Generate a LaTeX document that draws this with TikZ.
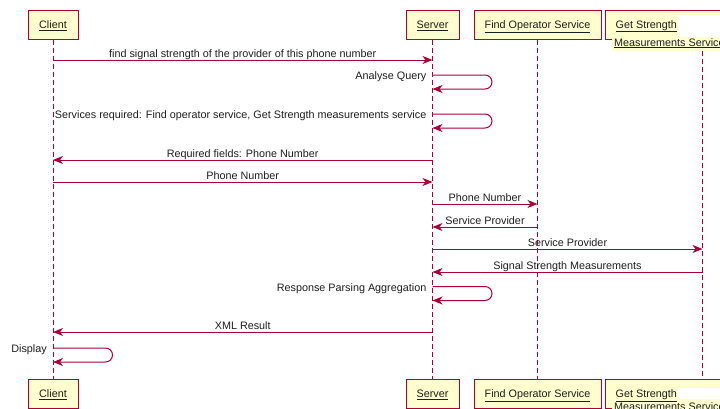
\documentclass[tikz,border=0pt]{standalone}
\usepackage{fontspec}
\setmainfont{Liberation Sans}
\usetikzlibrary{arrows.meta,calc}
\definecolor{pu}{HTML}{A80036}
\definecolor{pubg}{HTML}{FEFECE}
\definecolor{txt}{HTML}{1E1E1E}
\tikzset{
  part/.style={draw=pu, fill=pubg, line width=1pt, rectangle, minimum height=29pt,
    inner sep=0pt, text height=7.7pt, text depth=0pt, font=\fontsize{10.8}{12}\selectfont, text=txt},
  lifeline/.style={draw=pu, line width=0.8pt, dash pattern=on 5pt off 3pt},
  msg/.style={draw=pu, line width=1pt, -{Stealth[length=10pt,width=8pt,inset=3pt]}},
  lbl/.style={font=\fontsize{10.8}{12}\selectfont, text=txt, inner sep=0pt},
}
\begin{document}
\begin{tikzpicture}[x=1pt,y=-1pt]
\useasboundingbox (0,0) rectangle (720,408);
\clip (0,0) rectangle (720,408);
% lifeline x positions
\coordinate (cl) at (53,0);
\coordinate (sv) at (432.5,0);
\coordinate (fo) at (537.5,0);
\coordinate (gs) at (702.5,0);
% top participants
\node[part, minimum width=50pt] (clT) at (53,24.5) {\underline{Client}};
\node[part, minimum width=53pt] (svT) at (432.5,24.5) {\underline{Server}};
\node[part, minimum width=127pt] (foT) at (537.5,24.5) {\underline{Find Operator Service}};
\node[part, minimum width=135pt, anchor=north west] (gsT) at (605,10) {};
\fill[white] (678,15) rectangle (722,37);
\fill[pubg] (612,37) rectangle (722,51);
\node[lbl, anchor=base west] (gsT1) at (615.5,28) {\underline{Get Strength}};
\node[lbl, anchor=base west] (gsT2) at (614,46) {\underline{Measurements Service}};
% bottom participants
\node[part, minimum width=50pt] (clB) at (53,393.8) {\underline{Client}};
\node[part, minimum width=53pt] (svB) at (432.5,393.8) {\underline{Server}};
\node[part, minimum width=127pt] (foB) at (537.5,393.8) {\underline{Find Operator Service}};
\node[part, minimum width=135pt, anchor=north west] (gsB) at (605,379.3) {};
\fill[white] (678,388.3) rectangle (722,399);
\fill[pubg] (612,399) rectangle (722,410);
\node[lbl, anchor=base west] (gsB1) at (615.5,397.3) {\underline{Get Strength}};
\node[lbl, anchor=base west] (gsB2) at (614,410) {\underline{Measurements Service}};
% lifelines
\coordinate (gsTop) at (702.5,51);
\coordinate (gsBot) at (702.5,379.3);
\draw[lifeline] (clT.south) -- (clB.north);
\draw[lifeline] (svT.south) -- (svB.north);
\draw[lifeline] (foT.south) -- (foB.north);
\draw[lifeline] (gsTop) -- (gsBot);
% messages
\draw[msg] ($(cl)+(0,60)$) -- ($(sv)+(0,60)$)
  node[lbl, midway, anchor=base, yshift=2.5pt] {find signal strength of the provider of this phone number};
\draw[msg, rounded corners=7pt] ($(sv)+(0,75)$) -- ($(sv)+(59.5,75)$) -- ($(sv)+(59.5,89)$) -- ($(sv)+(0,89)$);
\node[lbl, anchor=base east] at ($(sv)+(-6,79.5)$) {Analyse Query};
\draw[msg, rounded corners=7pt] ($(sv)+(0,114)$) -- ($(sv)+(59.5,114)$) -- ($(sv)+(59.5,128)$) -- ($(sv)+(0,128)$);
\node[lbl, anchor=base east] at ($(sv)+(-6,118)$) {Services required: Find operator service, Get Strength measurements service};
\draw[msg] ($(sv)+(0,160)$) -- ($(cl)+(0,160)$)
  node[lbl, midway, anchor=base, yshift=2.5pt] {Required fields: Phone Number};
\draw[msg] ($(cl)+(0,182)$) -- ($(sv)+(0,182)$)
  node[lbl, midway, anchor=base, yshift=2.5pt] {Phone Number};
\draw[msg] ($(sv)+(0,204)$) -- ($(fo)+(0,204)$)
  node[lbl, midway, anchor=base, yshift=2.5pt] {Phone Number};
\draw[msg] ($(fo)+(0,227)$) -- ($(sv)+(0,227)$)
  node[lbl, midway, anchor=base, yshift=2.5pt] {Service Provider};
\draw[msg] ($(sv)+(0,249)$) -- ($(gs)+(0,249)$)
  node[lbl, midway, anchor=base, yshift=2.5pt] {Service Provider};
\draw[msg] ($(gs)+(0,272)$) -- ($(sv)+(0,272)$)
  node[lbl, midway, anchor=base, yshift=2.5pt] {Signal Strength Measurements};
\draw[msg, rounded corners=7pt] ($(sv)+(0,286.5)$) -- ($(sv)+(59.5,286.5)$) -- ($(sv)+(59.5,300.5)$) -- ($(sv)+(0,300.5)$);
\node[lbl, anchor=base east] at ($(sv)+(-6,291)$) {Response Parsing Aggregation};
\draw[msg] ($(sv)+(0,332)$) -- ($(cl)+(0,332)$)
  node[lbl, midway, anchor=base, yshift=2.5pt] {XML Result};
\draw[msg, rounded corners=7pt] ($(cl)+(0,348)$) -- ($(cl)+(59.5,348)$) -- ($(cl)+(59.5,362)$) -- ($(cl)+(0,362)$);
\node[lbl, anchor=base east] at ($(cl)+(-6,352)$) {Display};
\end{tikzpicture}
\end{document}
